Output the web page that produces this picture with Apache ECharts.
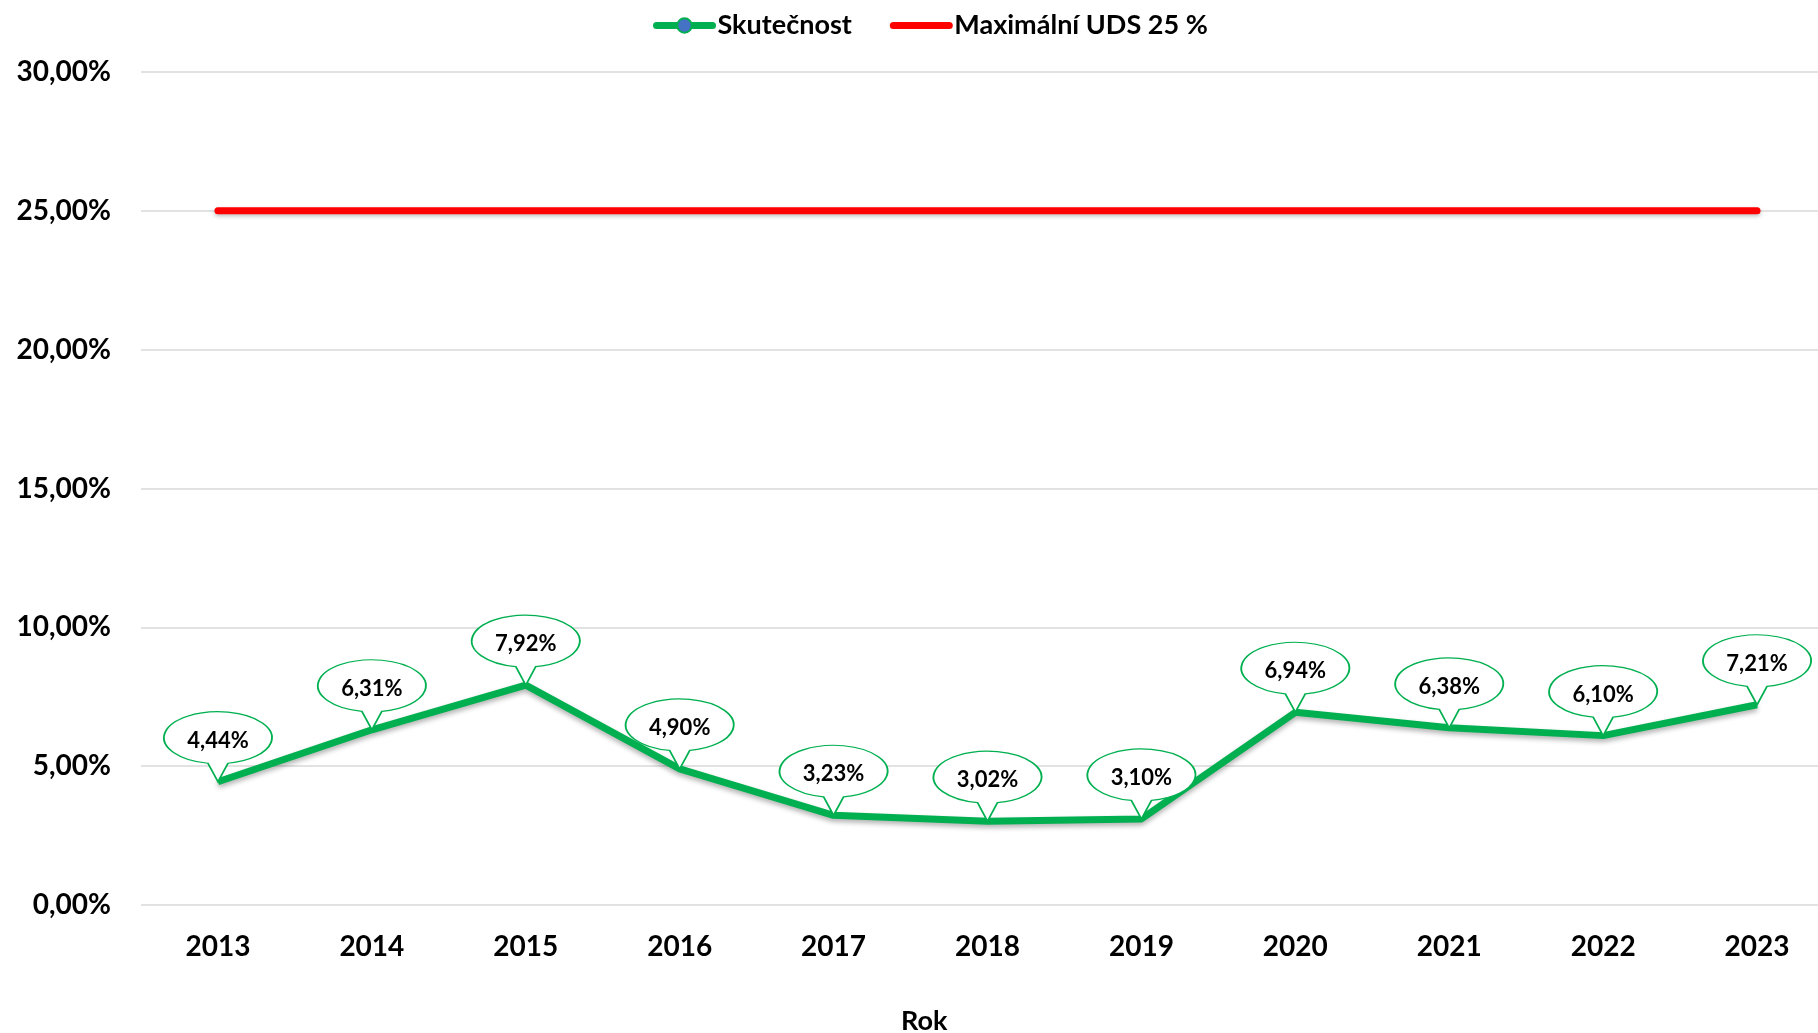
<!DOCTYPE html>
<html>
<head>
<meta charset="utf-8">
<script src="https://cdn.jsdelivr.net/npm/echarts@6/dist/echarts.min.js"></script>
<style>
html,body{margin:0;padding:0;background:#fff;}
#chart{width:1818px;height:1033px;}
</style>
</head>
<body>
<div id="chart"></div>
<script>
var years = ['2013','2014','2015','2016','2017','2018','2019','2020','2021','2022','2023'];
var actual = [4.44, 6.31, 7.92, 4.90, 3.23, 3.02, 3.10, 6.94, 6.38, 6.10, 7.21];
var maxUds = [25, 25, 25, 25, 25, 25, 25, 25, 25, 25, 25];
var yTicks = [0, 5, 10, 15, 20, 25, 30];

var FONT = 'Lato, "Open Sans", sans-serif';
function pct(v){ return v.toFixed(2).replace('.', ',') + '%'; }

var calloutPath = 'path://M45 51.5 A54 26 0 1 1 65 51.5 L55 70 Z';

var chart = echarts.init(document.getElementById('chart'));
chart.setOption({
  animation: false,
  backgroundColor: '#fff',
  legend: {
    top: 7,
    left: 648,
    itemWidth: 56,
    itemHeight: 18,
    itemGap: 38,
    lineStyle: { width: 7, cap: 'round' },
    textStyle: { fontFamily: FONT, fontWeight: 'bold', fontSize: 27, color: '#000' },
    data: [
      { name: 'Skutečnost' },
      { name: 'Maximální UDS 25 %', itemStyle: { opacity: 0 } }
    ]
  },
  grid: { left: 141, width: 1693, top: 72, bottom: 128, outerBoundsMode: 'none', containLabel: false },
  xAxis: {
    type: 'category',
    data: years,
    boundaryGap: true,
    axisLine: { show: false },
    axisTick: { show: false },
    axisLabel: { margin: 28, fontFamily: FONT, fontWeight: 'bold', fontSize: 28, color: '#000' }
  },
  yAxis: {
    type: 'value',
    min: yTicks[0],
    max: yTicks[yTicks.length - 1],
    interval: 5,
    axisLine: { show: false },
    axisTick: { show: false },
    splitLine: { lineStyle: { color: '#D9D9D9', width: 1.5 } },
    axisLabel: { margin: 30, fontFamily: FONT, fontWeight: 'bold', fontSize: 28, color: '#000', formatter: function(v){ return pct(v); } }
  },
  graphic: [{
    type: 'text',
    left: 925 - 24,
    top: 1008,
    style: { text: 'Rok', font: 'bold 27px ' + FONT, fill: '#000' }
  }],
  series: [
    {
      name: 'Skutečnost',
      type: 'line',
      data: actual,
      symbol: 'circle',
      symbolSize: 14,
      showSymbol: false,
      itemStyle: { color: '#4472C4', borderColor: '#00B050', borderWidth: 2 },
      lineStyle: { color: '#00B050', width: 7, shadowColor: 'rgba(0,0,0,0.3)', shadowBlur: 5, shadowOffsetY: 3 },
      z: 3,
      markPoint: {
        symbol: calloutPath,
        symbolSize: [108, 70],
        symbolOffset: [0, -35],
        itemStyle: { color: '#fff', borderColor: '#00B050', borderWidth: 1.5 },
        label: {
          show: true,
          position: 'inside',
          offset: [0, -6],
          fontFamily: FONT, fontWeight: 'bold', fontSize: 22, color: '#000',
          formatter: function(p){ return pct(p.value); }
        },
        z: 5,
        data: actual.map(function(v, i){ return { coord: [years[i], v], value: v }; })
      }
    },
    {
      name: 'Maximální UDS 25 %',
      type: 'line',
      data: maxUds,
      symbol: 'none',
      itemStyle: { color: '#FF0000' },
      lineStyle: { color: '#FF0000', width: 7, cap: 'round', shadowColor: 'rgba(0,0,0,0.25)', shadowBlur: 4, shadowOffsetY: 2 },
      z: 2
    }
  ]
});
</script>
</body>
</html>
